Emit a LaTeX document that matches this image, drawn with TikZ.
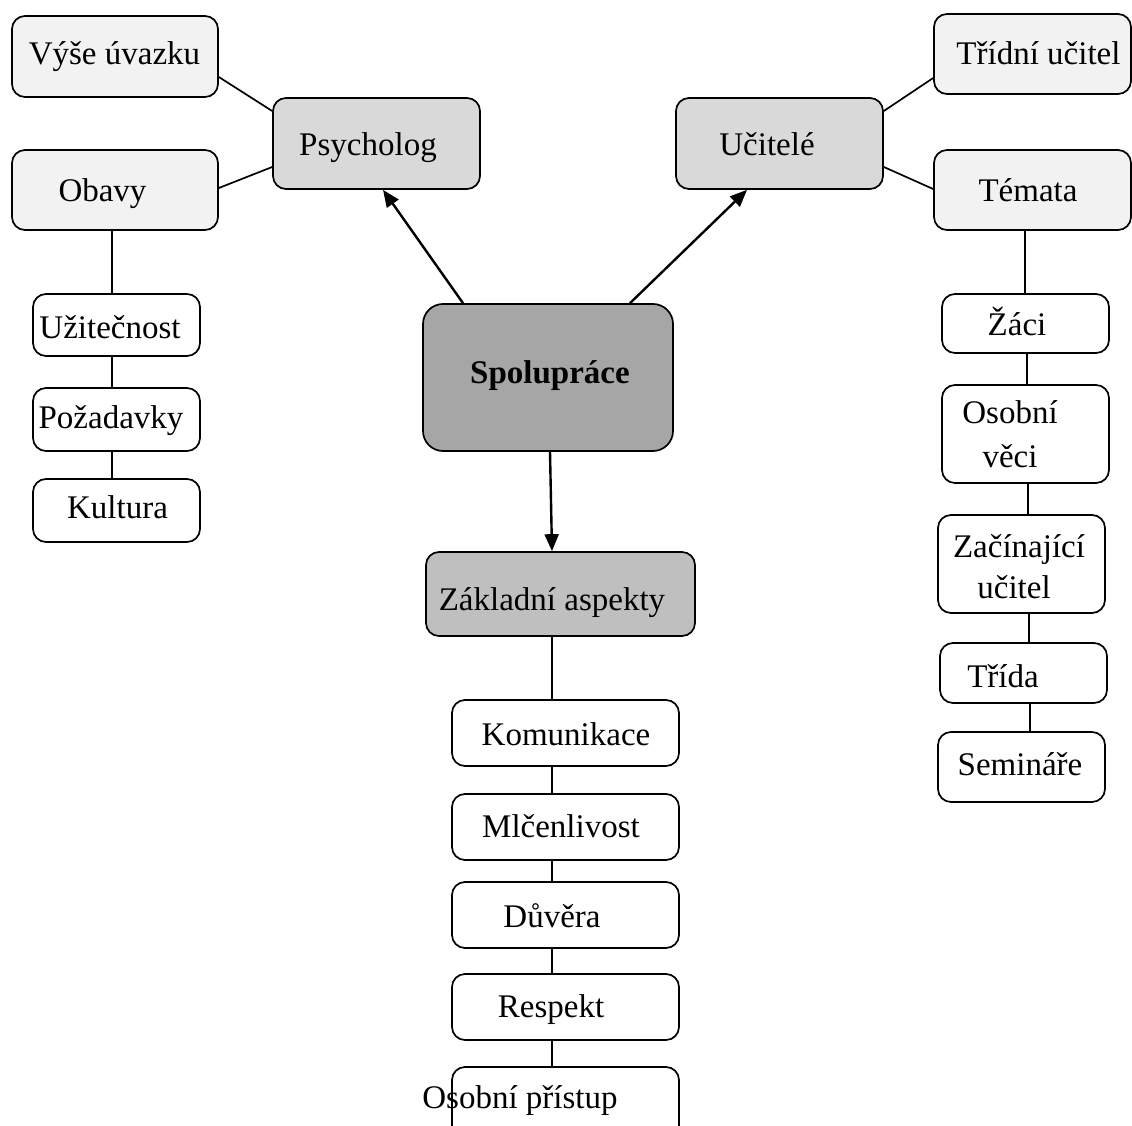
\documentclass[tikz,border=0pt]{standalone}
\usepackage{fontspec}
\setmainfont{Liberation Serif}
\usetikzlibrary{arrows.meta}
\definecolor{leafgray}{HTML}{F2F2F2}
\definecolor{midgray}{HTML}{D9D9D9}
\definecolor{aspgray}{HTML}{BFBFBF}
\definecolor{centgray}{HTML}{A6A6A6}
\tikzset{
  box/.style={draw=black, line width=1.7pt, rounded corners=13pt, inner sep=0pt},
  lbl/.style={anchor=base, inner sep=0pt, font=\fontsize{33}{40}\selectfont},
  link/.style={draw=black, line width=1.7pt},
  arr/.style={draw=black, line width=2.4pt, -{Triangle[length=17pt,width=14pt]}},
}
\begin{document}
\begin{tikzpicture}[x=1pt,y=-1pt]
\useasboundingbox[fill=white] (0,0) rectangle (1132,1126);
% ---- boxes ----
\node[box, fill=leafgray, minimum width=206pt, minimum height=81pt] (vyse) at (115,56.5) {};
\node[box, fill=midgray, minimum width=207pt, minimum height=91pt] (psych) at (376.5,143.5) {};
\node[box, fill=leafgray, minimum width=206pt, minimum height=80pt] (obavy) at (115,190) {};
\node[box, fill=white, minimum width=167pt, minimum height=62pt] (uzit) at (116.5,325) {};
\node[box, fill=white, minimum width=167pt, minimum height=63pt] (poz) at (116.5,419.5) {};
\node[box, fill=white, minimum width=167pt, minimum height=63pt] (kult) at (116.5,510.5) {};
\node[box, fill=centgray, rounded corners=20pt, minimum width=250pt, minimum height=147pt] (spol) at (548,377.5) {};
\node[box, fill=aspgray, minimum width=269pt, minimum height=84pt] (za) at (560.5,594) {};
\node[box, fill=white, minimum width=227pt, minimum height=66pt] (kom) at (565.5,733) {};
\node[box, fill=white, minimum width=227pt, minimum height=66pt] (mlc) at (565.5,827) {};
\node[box, fill=white, minimum width=227pt, minimum height=66pt] (duv) at (565.5,915) {};
\node[box, fill=white, minimum width=227pt, minimum height=66pt] (resp) at (565.5,1007) {};
\node[box, fill=white, minimum width=227pt, minimum height=90pt] (osp) at (565.5,1112) {};
\node[box, fill=midgray, minimum width=207pt, minimum height=91pt] (uc) at (779.5,143.5) {};
\node[box, fill=leafgray, minimum width=197pt, minimum height=80pt] (trid) at (1032.5,54) {};
\node[box, fill=leafgray, minimum width=197pt, minimum height=80pt] (tem) at (1032.5,190) {};
\node[box, fill=white, minimum width=167pt, minimum height=59pt] (zaci) at (1025.5,323.5) {};
\node[box, fill=white, minimum width=167pt, minimum height=98pt] (ov) at (1025.5,434) {};
\node[box, fill=white, minimum width=167pt, minimum height=98pt] (zac) at (1021.5,564) {};
\node[box, fill=white, minimum width=167pt, minimum height=60pt] (trida) at (1023.5,673) {};
\node[box, fill=white, minimum width=167pt, minimum height=70pt] (sem) at (1021.5,767) {};
% ---- labels ----
\node[lbl] (tvyse) at (114.5,65) {Výše úvazku};
\node[lbl] (tpsych) at (368,156) {Psycholog};
\node[lbl] (tobavy) at (102.5,201.7) {Obavy};
\node[lbl] (tuzit) at (110,338) {Užitečnost};
\node[lbl] (tpoz) at (111,428) {Požadavky};
\node[lbl] (tkult) at (117.5,518) {Kultura};
\node[lbl, font=\fontsize{33}{40}\selectfont\bfseries] (tspol) at (550,383) {Spolupráce};
\node[lbl] (tza) at (552,610) {Základní aspekty};
\node[lbl] (tkom) at (566,745) {Komunikace};
\node[lbl] (tmlc) at (561,837) {Mlčenlivost};
\node[lbl] (tduv) at (552,927) {Důvěra};
\node[lbl] (tresp) at (551,1017) {Respekt};
\node[lbl] (tosp) at (520,1108) {Osobní přístup};
\node[lbl] (tuc) at (767,156) {Učitelé};
\node[lbl] (ttrid) at (1038.5,65) {Třídní učitel};
\node[lbl] (ttem) at (1028,202) {Témata};
\node[lbl] (tzaci) at (1017,335) {Žáci};
\node[lbl] (tov1) at (1010,423) {Osobní};
\node[lbl] (tov2) at (1010,467) {věci};
\node[lbl] (tzac1) at (1019,557) {Začínající};
\node[lbl] (tzac2) at (1014,598) {učitel};
\node[lbl] (ttrida) at (1003,687) {Třída};
\node[lbl] (tsem) at (1020,775) {Semináře};
% ---- connectors ----
\draw[link] ([yshift=-20.5pt]vyse.east) -- ([yshift=32.5pt]psych.west);
\draw[link] ([yshift=2pt]obavy.east) -- ([yshift=-23.5pt]psych.west);
\draw[link] ([xshift=-3pt]obavy.south) -- ([xshift=-4.5pt]uzit.north);
\draw[link] ([xshift=-4.5pt]uzit.south) -- ([xshift=-4.5pt]poz.north);
\draw[link] ([xshift=-4.5pt]poz.south) -- ([xshift=-4.5pt]kult.north);
\draw[link] ([yshift=32.5pt]uc.east) -- ([yshift=-24pt]trid.west);
\draw[link] ([yshift=-23.5pt]uc.east) -- ([yshift=1pt]tem.west);
\draw[link] ([xshift=-7.5pt]tem.south) -- ([xshift=-0.5pt]zaci.north);
\draw[link] ([xshift=1.5pt]zaci.south) -- ([xshift=1.5pt]ov.north);
\draw[link] ([xshift=2.5pt]ov.south) -- ([xshift=6.5pt]zac.north);
\draw[link] ([xshift=7.5pt]zac.south) -- ([xshift=5.5pt]trida.north);
\draw[link] ([xshift=6.5pt]trida.south) -- ([xshift=8.5pt]sem.north);
\draw[link] ([xshift=-8.5pt]za.south) -- ([xshift=-13.5pt]kom.north);
\draw[link] ([xshift=-13.5pt]kom.south) -- ([xshift=-13.5pt]mlc.north);
\draw[link] ([xshift=-13.5pt]mlc.south) -- ([xshift=-13.5pt]duv.north);
\draw[link] ([xshift=-13.5pt]duv.south) -- ([xshift=-13.5pt]resp.north);
\draw[link] ([xshift=-13.5pt]resp.south) -- ([xshift=-13.5pt]osp.north);
% ---- arrows ----
\draw[arr] ([xshift=-85pt]spol.north) -- ([xshift=6.5pt]psych.south);
\draw[arr] ([xshift=82pt]spol.north) -- ([xshift=-32.5pt]uc.south);
\draw[arr] ([xshift=2pt]spol.south) -- ([xshift=-8.5pt]za.north);
\end{tikzpicture}
\end{document}
